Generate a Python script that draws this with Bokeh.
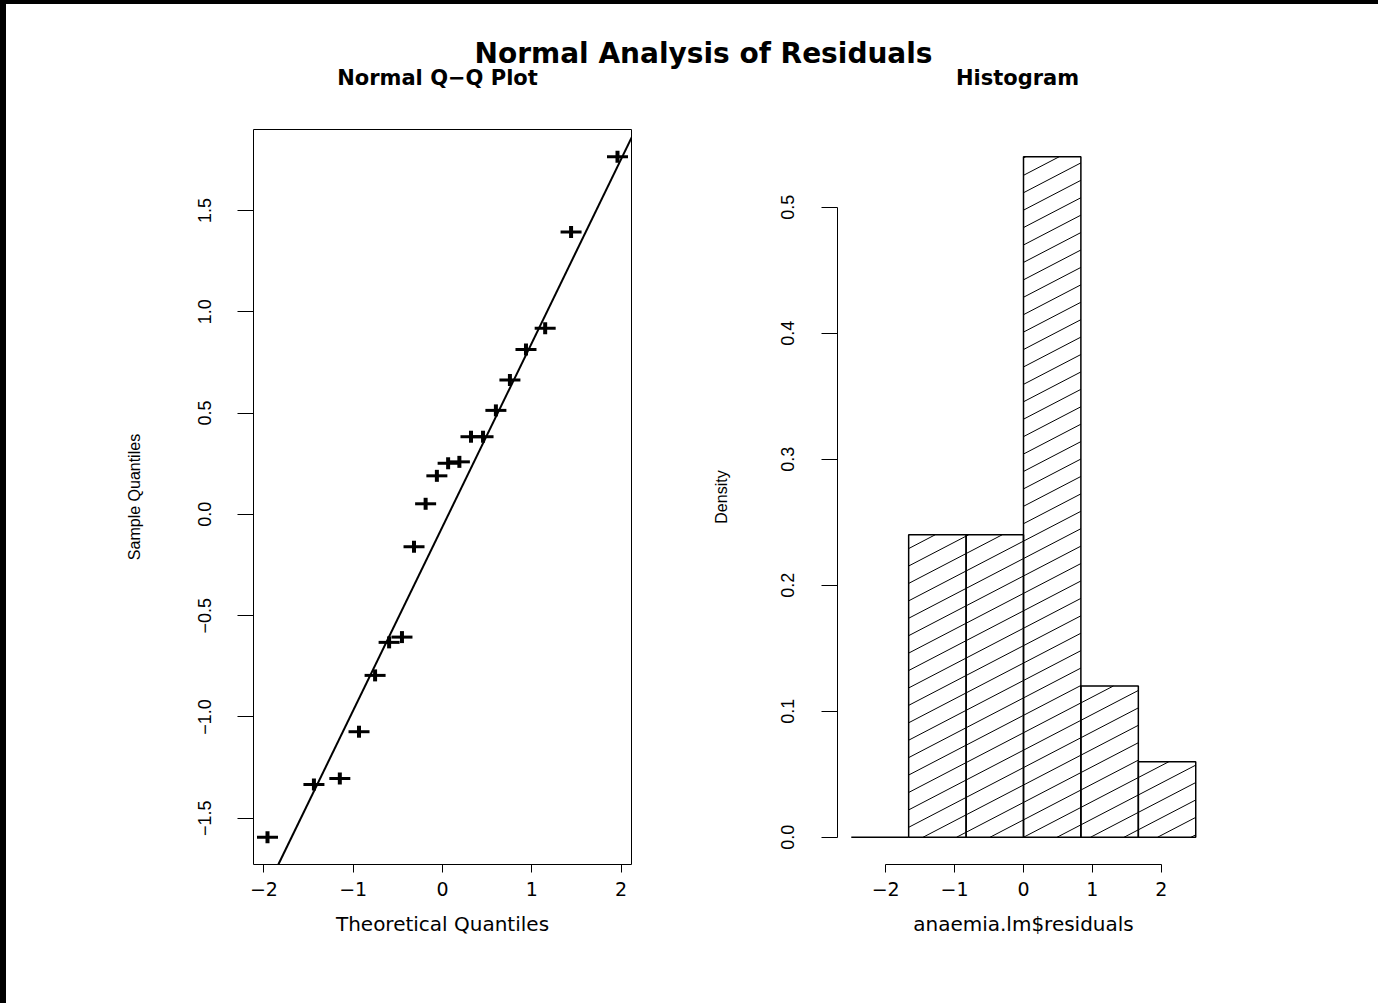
import math
import numpy as np
from bokeh.plotting import figure
from bokeh.layouts import column, row
from bokeh.models import Label, FixedTicker, Range1d, Slope, Div
from bokeh.embed import file_html
from bokeh.resources import INLINE

# ---------------- data ----------------
theoretical_q = [-1.96, -1.44, -1.15, -0.935, -0.755, -0.598, -0.454, -0.319, -0.189, -0.063,
                 0.063, 0.189, 0.319, 0.454, 0.598, 0.755, 0.935, 1.15, 1.44, 1.96]
sample_q = [-1.594, -1.334, -1.304, -1.073, -0.795, -0.632, -0.606, -0.160, 0.052, 0.190,
            0.252, 0.259, 0.383, 0.383, 0.513, 0.663, 0.813, 0.919, 1.394, 1.765]
normal_quartiles = [-0.6745, 0.6745]

hist_breaks = [-2.5, -1.667, -0.833, 0.0, 0.833, 1.667, 2.5]
hist_density = [0.0, 0.24, 0.24, 0.54, 0.12, 0.06]

qq_xticks = [-2, -1, 0, 1, 2]
qq_xlabels = ["\u22122", "\u22121", "0", "1", "2"]
qq_yticks = [-1.5, -1.0, -0.5, 0.0, 0.5, 1.0, 1.5]
qq_ylabels = ["\u22121.5", "\u22121.0", "\u22120.5", "0.0", "0.5", "1.0", "1.5"]
hist_xticks = [-2, -1, 0, 1, 2]
hist_xlabels = ["\u22122", "\u22121", "0", "1", "2"]
hist_yticks = [0.0, 0.1, 0.2, 0.3, 0.4, 0.5]
hist_ylabels = ["0.0", "0.1", "0.2", "0.3", "0.4", "0.5"]

main_title = "Normal Analysis of Residuals"
qq_title = "Normal Q\u2212Q Plot"
hist_title = "Histogram"
qq_xlabel = "Theoretical Quantiles"
qq_ylabel = "Sample Quantiles"
hist_xlabel = "anaemia.lm$residuals"
hist_ylabel = "Density"

# ---------------- styling constants ----------------
HFONT = "DejaVu Sans"
VFONT = "Liberation Sans"
HATCH_SLOPE_PX = 0.52      # screen rise per screen run of the shading lines
HATCH_SPACING_PX = 33.5    # horizontal distance between shading lines


def r_range(lo, hi):
    d = (hi - lo) * 0.04
    return lo - d, hi + d


def style(p, xticks, xlabels, yticks, ylabels, xlabel, ylabel, ylab_standoff, yaxlab_standoff):
    p.background_fill_color = "white"
    p.border_fill_color = "white"
    p.xgrid.visible = False
    p.ygrid.visible = False
    p.xaxis.ticker = FixedTicker(ticks=xticks, minor_ticks=[])
    p.yaxis.ticker = FixedTicker(ticks=yticks, minor_ticks=[])
    p.xaxis.major_label_overrides = {float(t): l for t, l in zip(xticks, xlabels)}
    p.yaxis.major_label_overrides = {float(t): l for t, l in zip(yticks, ylabels)}
    p.xaxis.bounds = (min(xticks), max(xticks))
    p.yaxis.bounds = (min(yticks), max(yticks))
    p.yaxis.major_label_orientation = "vertical"
    p.xaxis.axis_label = xlabel
    p.yaxis.axis_label = ylabel
    for ax in (p.xaxis, p.yaxis):
        ax.axis_line_color = "black"
        ax.axis_line_width = 1
        ax.major_tick_line_color = "black"
        ax.major_tick_in = 0
        ax.minor_tick_out = 0
        ax.minor_tick_in = 0
        ax.major_label_text_color = "black"
        ax.axis_label_text_font_style = "normal"
        ax.axis_label_text_color = "black"
    p.xaxis.major_tick_out = 8
    p.yaxis.major_tick_out = 16
    p.xaxis.major_label_text_font = HFONT
    p.xaxis.major_label_text_font_size = "19px"
    p.xaxis.axis_label_text_font = HFONT
    p.xaxis.axis_label_text_font_size = "20px"
    p.yaxis.major_label_text_font = VFONT
    p.yaxis.major_label_text_font_size = "18px"
    p.yaxis.axis_label_text_font = VFONT
    p.yaxis.axis_label_text_font_size = "16px"
    p.xaxis.major_label_standoff = 9
    p.xaxis.axis_label_standoff = 13
    p.yaxis.major_label_standoff = ylab_standoff
    p.yaxis.axis_label_standoff = yaxlab_standoff


# ---------------- black strips (top / left edge of the picture) ----------------
top_strip = Div(text="", width=1378, height=4, margin=0, styles={"background-color": "black"})
left_strip = Div(text="", width=6, height=999, margin=0, styles={"background-color": "black"})

# ---------------- titles strip ----------------
title_fig = figure(width=1372, height=92, x_range=(0, 1), y_range=(0, 1),
                   x_axis_type=None, y_axis_type=None, toolbar_location=None,
                   output_backend="svg", min_border=0)
title_fig.outline_line_color = None
title_fig.grid.visible = False
title_fig.background_fill_color = "white"
title_fig.border_fill_color = "white"
title_fig.add_layout(Label(x=697, y=43, x_units="screen", y_units="screen", text=main_title,
                           text_align="center", text_baseline="alphabetic", text_font=HFONT,
                           text_font_size="28px", text_font_style="bold", text_color="black"))
for tx, txt in ((431, qq_title), (1011, hist_title)):
    title_fig.add_layout(Label(x=tx, y=19, x_units="screen", y_units="screen", text=txt,
                               text_align="center", text_baseline="alphabetic", text_font=HFONT,
                               text_font_size="21px", text_font_style="bold", text_color="black"))

# ---------------- Q-Q plot ----------------
qx = r_range(min(theoretical_q), max(theoretical_q))
qy = r_range(min(sample_q), max(sample_q))
qq = figure(width=684, height=907, x_range=Range1d(*qx), y_range=Range1d(*qy),
            toolbar_location=None, output_backend="svg",
            min_border_left=247, min_border_right=59, min_border_top=33, min_border_bottom=139)
style(qq, qq_xticks, qq_xlabels, qq_yticks, qq_ylabels, qq_xlabel, qq_ylabel, 26, 53)
qq.outline_line_color = "black"
qq.outline_line_width = 1
qq.outline_line_alpha = 1
# "+" symbols: wide horizontal stroke, shorter heavier vertical stroke
qq.scatter(theoretical_q, sample_q, marker="dash", size=21, line_color="black", line_width=3)
qq.scatter(theoretical_q, sample_q, marker="dash", angle=np.pi / 2, size=12,
           line_color="black", line_width=4)
y1, y3 = np.percentile(sample_q, [25, 75])
slope = (y3 - y1) / (normal_quartiles[1] - normal_quartiles[0])
intercept = y1 - slope * normal_quartiles[0]
qq.add_layout(Slope(gradient=slope, y_intercept=intercept, line_color="black", line_width=2))

# ---------------- Histogram ----------------
H_W, H_H, H_L, H_R, H_T, H_B = 688, 907, 147, 169, 33, 139
hx = r_range(min(hist_breaks), max(hist_breaks))
hy = r_range(0.0, max(hist_density))
hist = figure(width=H_W, height=H_H, x_range=Range1d(*hx), y_range=Range1d(*hy),
              toolbar_location=None, output_backend="svg",
              min_border_left=H_L, min_border_right=H_R, min_border_top=H_T, min_border_bottom=H_B)
style(hist, hist_xticks, hist_xlabels, hist_yticks, hist_ylabels, hist_xlabel, hist_ylabel, 27, 49)
hist.outline_line_color = None

lefts = hist_breaks[:-1]
rights = hist_breaks[1:]
hist.quad(left=lefts, right=rights, top=hist_density, bottom=0,
          fill_color="white", line_color=None)

# shading lines (R-style density hatching), clipped to each bar
px_per_x = (H_W - H_L - H_R) / (hx[1] - hx[0])
px_per_y = (H_H - H_T - H_B) / (hy[1] - hy[0])
m = HATCH_SLOPE_PX * px_per_x / px_per_y
dx = HATCH_SPACING_PX / px_per_x
hatch_xs, hatch_ys = [], []
for l, r, t in zip(lefts, rights, hist_density):
    if t <= 0:
        continue
    k0 = math.floor((l - t / m) / dx) - 1
    k1 = math.ceil(r / dx) + 1
    for k in range(k0, k1 + 1):
        xk = k * dx
        xs0 = max(l, xk)
        xs1 = min(r, xk + t / m)
        if xs1 > xs0 + 1e-9:
            hatch_xs.append([xs0, xs1])
            hatch_ys.append([m * (xs0 - xk), m * (xs1 - xk)])
hist.multi_line(hatch_xs, hatch_ys, line_color="black", line_width=1)

hist.quad(left=lefts, right=rights, top=hist_density, bottom=0,
          fill_color=None, line_color="black", line_width=1.5)

layout = column(top_strip, row(left_strip, column(title_fig, row(qq, hist))))

open("out.html", "w").write(file_html(layout, INLINE))
